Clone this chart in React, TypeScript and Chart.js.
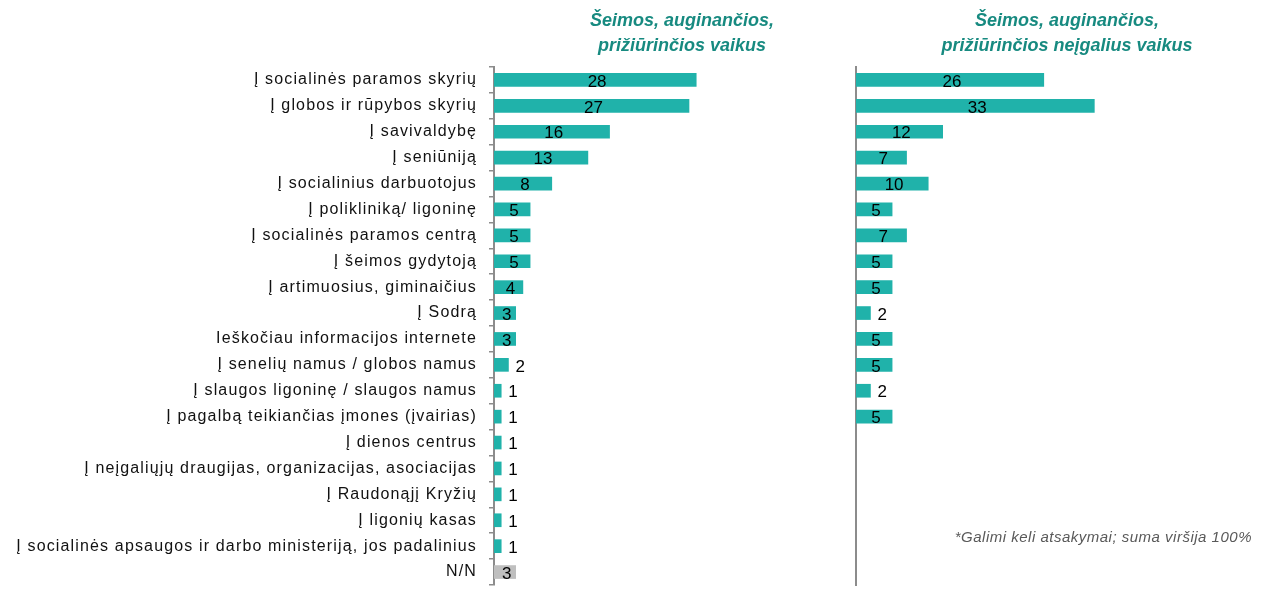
import React, { useEffect, useRef } from "react";
import { Chart, registerables } from "chart.js";
Chart.register(...registerables);

const FONT = '"Liberation Sans", Arial, sans-serif';

const categories = [
  "Į socialinės paramos skyrių",
  "Į globos ir rūpybos skyrių",
  "Į savivaldybę",
  "Į seniūniją",
  "Į socialinius darbuotojus",
  "Į polikliniką/ ligoninę",
  "Į socialinės paramos centrą",
  "Į šeimos gydytoją",
  "Į artimuosius, giminaičius",
  "Į Sodrą",
  "Ieškočiau informacijos internete",
  "Į senelių namus / globos namus",
  "Į slaugos ligoninę / slaugos namus",
  "Į pagalbą teikiančias įmones (įvairias)",
  "Į dienos centrus",
  "Į neįgaliųjų draugijas, organizacijas, asociacijas",
  "Į Raudonąjį Kryžių",
  "Į ligonių kasas",
  "Į socialinės apsaugos ir darbo ministeriją, jos padalinius",
  "N/N",
];

const leftValues = [28, 27, 16, 13, 8, 5, 5, 5, 4, 3, 3, 2, 1, 1, 1, 1, 1, 1, 1, 3];
const rightValues = [26, 33, 12, 7, 10, 5, 7, 5, 5, 2, 5, 5, 2, 5, null, null, null, null, null, null];

const leftTitle = ["Šeimos, auginančios,", "prižiūrinčios vaikus"];
const rightTitle = ["Šeimos, auginančios,", "prižiūrinčios neįgalius vaikus"];
const footnote = "*Galimi keli atsakymai; suma viršija 100%";

const TEAL = "#20B2AA";
const GREY_BAR = "#BFBFBF";
const AXIS = "#8C8C8C";

const spacing = {
  id: "spacing",
  beforeDraw(chart: any) {
    (chart.ctx as any).letterSpacing = "1.15px";
  },
};

const valueLabels = {
  id: "valueLabels",
  afterDatasetsDraw(chart: any) {
    const ctx = chart.ctx;
    const meta = chart.getDatasetMeta(0);
    const data = chart.data.datasets[0].data;
    ctx.save();
    (ctx as any).letterSpacing = "0px";
    ctx.font = `17px ${FONT}`;
    ctx.fillStyle = "#000";
    ctx.textBaseline = "middle";
    meta.data.forEach((bar: any, i: number) => {
      const v = data[i];
      if (v == null) return;
      const { x, y, base } = bar.getProps(["x", "y", "base"], true);
      if (v >= 3) {
        ctx.textAlign = "center";
        ctx.fillText(String(v), (x + base) / 2 + 2, y + 2);
      } else {
        ctx.textAlign = "left";
        ctx.fillText(String(v), x + 7, y + 2);
      }
    });
    ctx.restore();
  },
};

function makeConfig(values: any[], showLabels: boolean, axisWidth: number, padRight: number): any {
  return {
    type: "bar",
    data: {
      labels: categories,
      datasets: [
        {
          data: values,
          backgroundColor: values.map((_, i) => (i === categories.length - 1 ? GREY_BAR : TEAL)),
          barThickness: 13,
          borderWidth: 0,
        },
      ],
    },
    options: {
      indexAxis: "y",
      responsive: false,
      animation: false,
      layout: { padding: { top: 67, bottom: 6, left: 0, right: padRight } },
      plugins: { legend: { display: false }, tooltip: { enabled: false }, title: { display: false } },
      scales: {
        x: { display: false, min: 0, max: 45 },
        y: {
          afterFit(scale: any) {
            scale.width = axisWidth;
            scale.paddingTop = 0;
            scale.paddingBottom = 0;
          },
          grid: showLabels
            ? { display: true, drawOnChartArea: false, drawTicks: true, tickLength: 5, color: AXIS, lineWidth: 1.5, offset: true }
            : { display: false },
          border: { display: true, color: AXIS, width: 2 },
          ticks: showLabels
            ? { display: true, padding: 12, color: "#111", font: { family: FONT, size: 16 }, autoSkip: false }
            : { display: false },
        },
      },
    },
    plugins: [spacing, valueLabels],
  };
}

export default function App() {
  const leftRef = useRef<HTMLCanvasElement>(null);
  const rightRef = useRef<HTMLCanvasElement>(null);

  useEffect(() => {
    Chart.defaults.font.family = FONT;
    const c1 = new Chart(leftRef.current as HTMLCanvasElement, makeConfig(leftValues, true, 494, 31));
    const c2 = new Chart(rightRef.current as HTMLCanvasElement, makeConfig(rightValues, false, 16, 88));
    return () => {
      c1.destroy();
      c2.destroy();
    };
  }, []);

  const titleStyle = (cx: number): React.CSSProperties => ({
    position: "absolute",
    left: cx - 200,
    width: 400,
    top: 8,
    textAlign: "center",
    fontFamily: FONT,
    fontWeight: "bold",
    fontStyle: "italic",
    fontSize: 18,
    lineHeight: "25px",
    color: "#178A80",
    whiteSpace: "nowrap",
  });

  return (
    <div style={{ position: "absolute", left: 0, top: 0, width: 1269, height: 591, background: "#fff", overflow: "hidden" }}>
      <canvas ref={leftRef} width={850} height={591} style={{ position: "absolute", left: 0, top: 0 }} />
      <canvas ref={rightRef} width={429} height={591} style={{ position: "absolute", left: 840, top: 0 }} />
      <div style={titleStyle(682)}>
        {leftTitle[0]}
        <br />
        {leftTitle[1]}
      </div>
      <div style={titleStyle(1067)}>
        {rightTitle[0]}
        <br />
        {rightTitle[1]}
      </div>
      <div
        style={{
          position: "absolute",
          right: 17,
          top: 528,
          fontFamily: FONT,
          fontStyle: "italic",
          fontSize: 15,
          letterSpacing: "0.5px",
          color: "#595959",
          whiteSpace: "nowrap",
        }}
      >
        {footnote}
      </div>
    </div>
  );
}
